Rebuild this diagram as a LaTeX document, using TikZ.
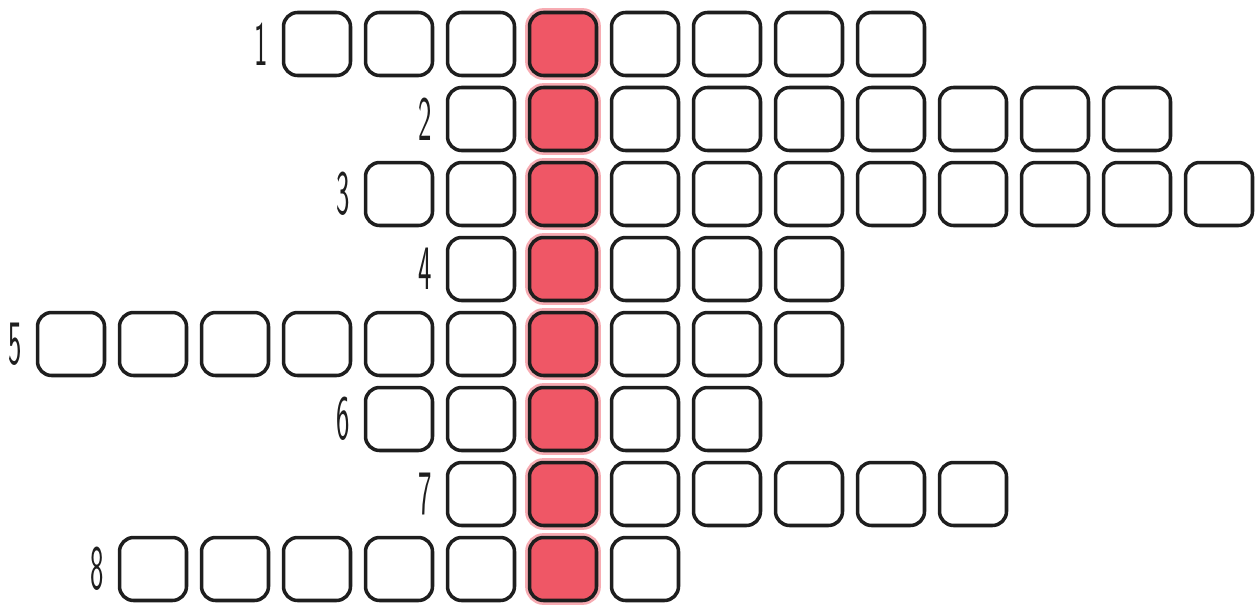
\documentclass[tikz,border=0pt]{standalone}
\usetikzlibrary{positioning}
\definecolor{inkc}{HTML}{1E1E1E}
\definecolor{redc}{HTML}{EF5766}

\begin{document}
\begin{tikzpicture}[x=0.02cm, y=-0.02cm,
      cell/.style={draw=inkc, line width=2pt, rounded corners=8pt, fill=white,
                   minimum width=1.34cm, minimum height=1.26cm, inner sep=0pt},
      hit/.style={cell, fill=redc,
                  preaction={draw=redc, line width=5pt, opacity=0.5}},
      num/.style={font=\sffamily\fontsize{36}{36}\selectfont, text=inkc, xscale=0.45,
                  transform shape, inner sep=0pt}]
    \useasboundingbox (0,0) rectangle (1259,605);
    % row / first column / number of cells; column 6 is the keyword
    \foreach \r/\first/\n in {1/3/8, 2/5/9, 3/4/11, 4/5/5, 5/0/10, 6/4/5, 7/5/7, 8/1/7} {
      \pgfmathtruncatemacro\last{\first+\n-1}
      \foreach \k in {\first,...,\last} {
        \ifnum\k=6
          \node[hit] (c-\r-\k) at ({71+82*\k}, {44+75*(\r-1)}) {};
        \else
          \node[cell] (c-\r-\k) at ({71+82*\k}, {44+75*(\r-1)}) {};
        \fi
      }
      \node[num, left=8pt of c-\r-\first] (n-\r) {\r};
    }
  \end{tikzpicture}
\end{document}
